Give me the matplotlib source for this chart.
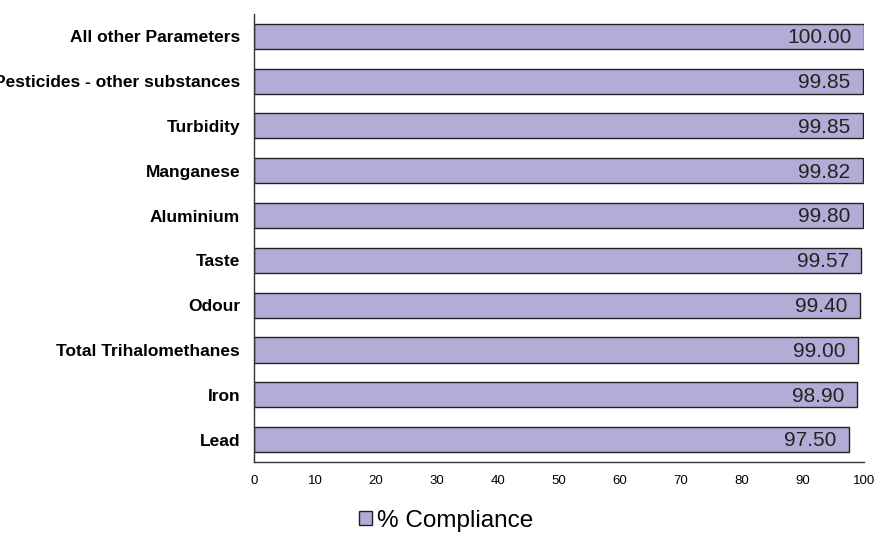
import numpy as np
import matplotlib
matplotlib.use("Agg")
import matplotlib.pyplot as plt

# Compliance data (top to bottom as in the chart)
parameters = [
    "All other Parameters",
    "Pesticides - other substances",
    "Turbidity",
    "Manganese",
    "Aluminium",
    "Taste",
    "Odour",
    "Total Trihalomethanes",
    "Iron",
    "Lead",
]
compliance = [100.00, 99.85, 99.85, 99.82, 99.80, 99.57, 99.40, 99.00, 98.90, 97.50]
x_ticks = [0, 10, 20, 30, 40, 50, 60, 70, 80, 90, 100]

plt.rcParams["font.family"] = ["Liberation Sans", "DejaVu Sans"]

fig = plt.figure(figsize=(8.78, 5.33), dpi=100)
ax = fig.add_axes([0.2893, 0.1332, 0.6947, 0.8408])

ypos = np.arange(len(parameters))[::-1]
bars = ax.barh(ypos, compliance, height=0.56, color="#b3acd6",
               edgecolor="#222222", linewidth=1.0, label="% Compliance")

# value labels inside the bar end
for y, v in zip(ypos, compliance):
    ax.annotate(f"{v:.2f}", xy=(v, y), xytext=(-9, -1),
                textcoords="offset points", ha="right", va="center",
                fontsize=15, color="#222222")

ax.set_xlim(0, 100)
ax.set_ylim(-0.5, len(parameters) - 0.5)
ax.set_xticks(x_ticks)
ax.set_yticks(ypos)
# the long label runs off the left edge, same as the original
ax.set_yticklabels(parameters, fontsize=12.5, fontweight="bold")
ax.tick_params(axis="x", length=0, labelsize=9.5, pad=9)
ax.tick_params(axis="y", length=0, pad=10)

for s in ["top", "right"]:
    ax.spines[s].set_visible(False)
for s in ["left", "bottom"]:
    ax.spines[s].set_color("#333333")
    ax.spines[s].set_linewidth(1.0)

leg = fig.legend(handles=[bars], loc="center", bbox_to_anchor=(0.508, 0.023),
                 frameon=False, fontsize=17.5, handlelength=0.55, handleheight=0.55,
                 handletextpad=0.2)

fig.savefig("out.png", dpi=100)
